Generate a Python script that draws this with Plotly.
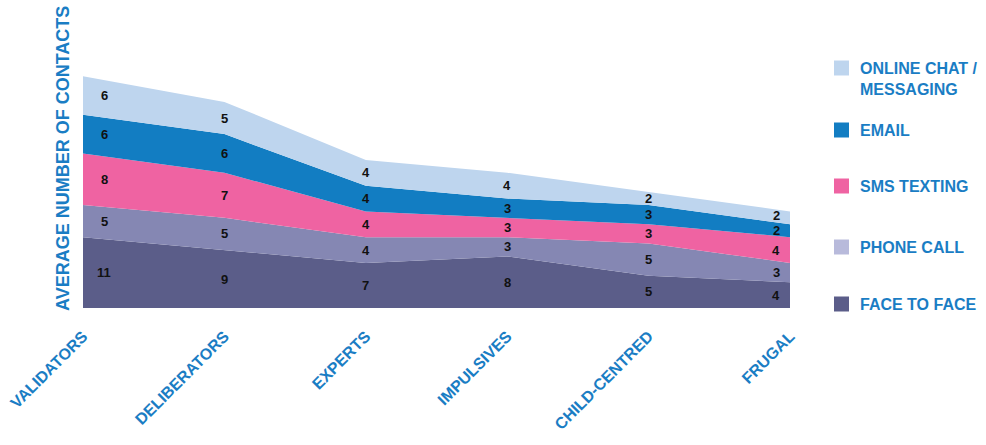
import plotly.graph_objects as go

categories = ["VALIDATORS", "DELIBERATORS", "EXPERTS", "IMPULSIVES", "CHILD-CENTRED", "FRUGAL"]
series_names = ["FACE TO FACE", "PHONE CALL", "SMS TEXTING", "EMAIL", "ONLINE CHAT /<br>MESSAGING"]
face_to_face = [11, 9, 7, 8, 5, 4]
phone_call = [5, 5, 4, 3, 5, 3]
sms_texting = [8, 7, 4, 3, 3, 4]
email = [6, 6, 4, 3, 3, 2]
online_chat = [6, 5, 4, 4, 2, 2]

series_values = [face_to_face, phone_call, sms_texting, email, online_chat]
area_colors = ["#5b5d89", "#8587b3", "#ef63a2", "#127dc2", "#bed5ee"]
legend_colors = ["#5b5d89", "#b8badb", "#ef63a2", "#127dc2", "#bed5ee"]
BLUE = "#1a7dc4"
FONT = "Liberation Sans"

x = list(range(len(categories)))
fig = go.Figure()
for name, vals, col in zip(series_names, series_values, area_colors):
    fig.add_trace(go.Scatter(
        x=x, y=vals, name=name, stackgroup="one", mode="lines",
        line=dict(width=0, color=col), fillcolor=col, showlegend=False,
        hoverinfo="skip"))

annotations = []
cum = [0] * len(categories)
n_series = len(series_values)
for s, vals in enumerate(series_values):
    for i, v in enumerate(vals):
        shift = 21 if i == 0 else (-14 if i == len(categories) - 1 else 0)
        yshift = 2 if (s == n_series - 1 and i == len(categories) - 1) else 0
        annotations.append(dict(
            x=i, y=cum[i] + v / 2, text=str(v), showarrow=False,
            xshift=shift, yshift=yshift,
            font=dict(family=FONT, size=13, color="#111111", weight="bold")))
        cum[i] += v

# y-axis title
annotations.append(dict(
    xref="paper", yref="paper", x=0, y=0.5, xshift=-32, textangle=-90,
    text="AVERAGE NUMBER OF CONTACTS", showarrow=False,
    font=dict(family=FONT, size=18, color=BLUE, weight="bold")))

# manual legend
legend_y = [304, 247, 186, 130, 68]
shapes = []
for name, col, yc in zip(series_names, legend_colors, legend_y):
    shapes.append(dict(type="rect", xref="paper", yref="paper",
                       x0=(834 - 83) / 707, x1=(849 - 83) / 707,
                       y0=(308 - (yc + 7.5)) / 298, y1=(308 - (yc - 7.5)) / 298,
                       fillcolor=col, line=dict(width=0)))
    annotations.append(dict(
        xref="paper", yref="paper", x=(858 - 83) / 707, y=(308 - yc) / 298,
        xanchor="left", yanchor="middle" if "<br>" not in name else "top",
        yshift=0 if "<br>" not in name else 10,
        align="left", text=name, showarrow=False,
        font=dict(family=FONT, size=16, color=BLUE, weight="bold")))

fig.update_layout(
    width=986, height=445,
    margin=dict(l=83, r=196, t=10, b=137),
    plot_bgcolor="white", paper_bgcolor="white",
    showlegend=False,
    annotations=annotations, shapes=shapes,
    xaxis=dict(range=[0, 5], tickvals=x, ticktext=categories, tickangle=-45,
               showgrid=False, zeroline=False, showline=False, ticks="",
               automargin=False, ticklabelstandoff=15,
               tickfont=dict(family=FONT, size=16, color=BLUE, weight="bold")),
    yaxis=dict(range=[0, 298 / 6.44], showgrid=False, zeroline=False,
               automargin=False,
               showline=False, showticklabels=False, ticks=""),
)
fig.write_html("out.html", config={"displayModeBar": False},
               post_script="document.body.style.margin='0';document.body.style.overflow='hidden';")
